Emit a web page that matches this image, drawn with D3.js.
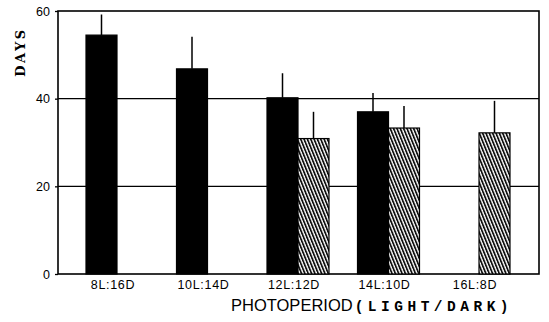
<!DOCTYPE html>
<html><head><meta charset="utf-8">
<script src="https://cdn.jsdelivr.net/npm/d3@7"></script>
<style>body{margin:0;background:#fff}</style>
</head><body>
<svg id="c" width="549" height="322"></svg>
<script>
const categories = ["8L:16D","10L:14D","12L:12D","14L:10D","16L:8D"];
const seriesNames = ["solid","hatched"];
const solidMeans = [54.5, 46.8, 40.2, 37.0, null];
const solidUpper = [59.2, 54.1, 45.8, 41.3, null];
const hatchedMeans = [null, null, 30.9, 33.3, 32.2];
const hatchedUpper = [null, null, 37.0, 38.3, 39.5];
const yTicks = [0, 20, 40, 60];
const gridValues = [20, 40];

const svg = d3.select("#c");
const L = 58, R = 539, T = 11, B = 274;
const y = d3.scaleLinear().domain([0, 60]).range([B, T]);
const x = d3.scaleBand().domain(categories).range([86, 510]).paddingInner(0.315).paddingOuter(0);
const xs = d3.scaleBand().domain(seriesNames).range([0, x.bandwidth()]);

const defs = svg.append("defs");
const pat = defs.append("pattern").attr("id","hatch").attr("patternUnits","userSpaceOnUse")
  .attr("width",3.1).attr("height",10).attr("patternTransform","rotate(-22)");
pat.append("rect").attr("width",3.1).attr("height",10).attr("fill","#fff");
pat.append("line").attr("x1",0.8).attr("x2",0.8).attr("y1",0).attr("y2",10).attr("stroke","#111").attr("stroke-width",1.9);

// gridlines
svg.append("g").selectAll("line").data(gridValues).join("line")
  .attr("x1", L).attr("x2", R).attr("y1", d=>y(d)).attr("y2", d=>y(d))
  .attr("stroke","#000").attr("stroke-width",1.3);

// y axis
const yAxis = svg.append("g").attr("transform",`translate(${L},0)`)
  .call(d3.axisLeft(y).tickValues(yTicks).tickSize(3).tickPadding(5).tickFormat(d3.format("d")));
yAxis.select(".domain").remove();
yAxis.selectAll("line").attr("stroke","#000").attr("stroke-width",1.3);
yAxis.selectAll("text").attr("font-family","Liberation Sans, Arial, sans-serif").attr("font-size",12.5).attr("fill","#000");

// frame
svg.append("rect").attr("x",L).attr("y",T).attr("width",R-L).attr("height",B-T)
  .attr("fill","none").attr("stroke","#000").attr("stroke-width",1.6);

const rows = categories.map((c,i)=>({c, vals:[
  {s:"solid", v:solidMeans[i], u:solidUpper[i]},
  {s:"hatched", v:hatchedMeans[i], u:hatchedUpper[i]}
].filter(d=>d.v!=null)}));

const g = svg.append("g").selectAll("g").data(rows).join("g")
  .attr("transform", d=>`translate(${x(d.c)},0)`);
g.selectAll("line.err").data(d=>d.vals).join("line").attr("class","err")
  .attr("x1", d=>xs(d.s)+xs.bandwidth()/2).attr("x2", d=>xs(d.s)+xs.bandwidth()/2)
  .attr("y1", d=>y(d.v)).attr("y2", d=>y(d.u)).attr("stroke","#000").attr("stroke-width",1.5);
g.selectAll("rect").data(d=>d.vals).join("rect")
  .attr("x", d=>xs(d.s)).attr("width", xs.bandwidth())
  .attr("y", d=>y(d.v)).attr("height", d=>B - y(d.v))
  .attr("fill", d=>d.s==="solid" ? "#000" : "url(#hatch)")
  .attr("stroke","#000").attr("stroke-width",1.2);

// x labels
svg.append("g").selectAll("text").data(categories).join("text")
  .attr("x", d=>x(d)+x.bandwidth()/2-4).attr("y", 289)
  .attr("text-anchor","middle").attr("font-family","Liberation Sans, Arial, sans-serif")
  .attr("font-size",12.5).attr("letter-spacing",0.7).attr("fill","#000").text(d=>d);

// axis titles
svg.append("text").attr("transform","translate(25,52) rotate(-90)")
  .attr("text-anchor","middle").attr("font-family","DejaVu Serif, serif").attr("font-weight","bold")
  .attr("font-size",13).attr("letter-spacing",2.5).attr("fill","#000").text("DAYS");

const t = svg.append("text").attr("x",231).attr("y",311).attr("fill","#000");
t.append("tspan").attr("font-family","Liberation Sans, Arial, sans-serif").attr("font-size",16.5).text("PHOTOPERIOD");
t.append("tspan").attr("dx",2).attr("font-family","Liberation Mono, DejaVu Sans Mono, monospace").attr("font-size",14.5)
  .attr("font-weight","bold").attr("letter-spacing",4.5).text("(LIGHT/DARK)");
</script>
</body></html>
